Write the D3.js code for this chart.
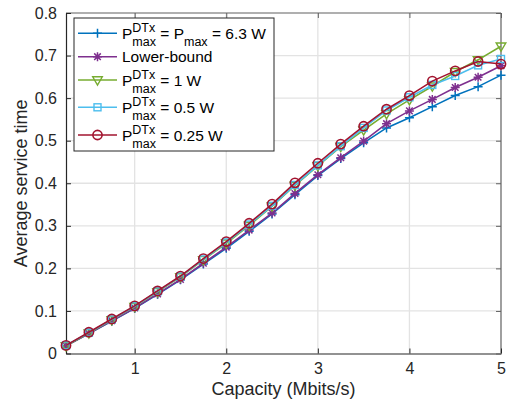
<!DOCTYPE html>
<html><head><meta charset="utf-8">
<script src="https://cdn.jsdelivr.net/npm/d3@7"></script>
<style>
html,body{margin:0;padding:0;background:#fff;}
svg{display:block;font-family:"Liberation Sans",Arial,Helvetica,sans-serif;}
</style></head>
<body>
<svg id="chart" width="513" height="404"></svg>
<script>
const capacity = [0.25,0.5,0.75,1,1.25,1.5,1.75,2,2.25,2.5,2.75,3,3.25,3.5,3.75,4,4.25,4.5,4.75,5];
const pFull   = [0.018,0.047,0.076,0.106,0.139,0.173,0.210,0.247,0.287,0.328,0.373,0.418,0.458,0.495,0.530,0.554,0.580,0.606,0.627,0.654];
const lowerBound = [0.018,0.047,0.077,0.107,0.140,0.174,0.212,0.250,0.290,0.330,0.376,0.420,0.460,0.499,0.540,0.570,0.597,0.625,0.649,0.676];
const p1W     = [0.018,0.048,0.079,0.110,0.145,0.180,0.220,0.259,0.301,0.346,0.395,0.441,0.486,0.525,0.563,0.596,0.628,0.662,0.690,0.722];
const p05W    = [0.019,0.049,0.080,0.111,0.146,0.181,0.221,0.261,0.303,0.347,0.396,0.442,0.487,0.530,0.571,0.602,0.631,0.652,0.677,0.692];
const p025W   = [0.019,0.050,0.081,0.112,0.147,0.182,0.223,0.263,0.306,0.351,0.401,0.447,0.492,0.534,0.574,0.606,0.640,0.664,0.686,0.680];
const xTicks = [1,2,3,4,5];
const yTicks = [0,0.1,0.2,0.3,0.4,0.5,0.6,0.7,0.8];
const xLabel = "Capacity (Mbits/s)";
const yLabel = "Average service time";

const series = [
  {values:pFull, color:"#0072BD", marker:"plus", legend:{base:"P", sup:"DTx", sub:"max", rest:[" = P",{sub:"max"}," = 6.3 W"]}},
  {values:lowerBound, color:"#7E2F8E", marker:"star", legend:{plain:"Lower-bound"}},
  {values:p1W, color:"#77AC30", marker:"tri", legend:{base:"P", sup:"DTx", sub:"max", rest:[" = 1 W"]}},
  {values:p05W, color:"#4DBEEE", marker:"square", legend:{base:"P", sup:"DTx", sub:"max", rest:[" = 0.5 W"]}},
  {values:p025W, color:"#A2142F", marker:"circle", legend:{base:"P", sup:"DTx", sub:"max", rest:[" = 0.25 W"]}}
];

const L=66, R=501, T=13, B=353.5;
const x = d3.scaleLinear().domain([0.25,5]).range([L,R]);
const y = d3.scaleLinear().domain([0,0.8]).range([B,T]);
const svg = d3.select("#chart");

// grid
svg.append("g").selectAll("line").data(xTicks.filter(v=>v<5)).join("line")
  .attr("x1",d=>x(d)).attr("x2",d=>x(d)).attr("y1",T).attr("y2",B)
  .attr("stroke","#e3e3e3").attr("stroke-width",1.3);
svg.append("g").selectAll("line").data(yTicks.filter(v=>v>0&&v<0.8)).join("line")
  .attr("y1",d=>y(d)).attr("y2",d=>y(d)).attr("x1",L).attr("x2",R)
  .attr("stroke","#e3e3e3").attr("stroke-width",1.3);

// box top/right
svg.append("line").attr("x1",L).attr("x2",R).attr("y1",T).attr("y2",T).attr("stroke","#606060").attr("stroke-width",1.2);
svg.append("line").attr("x1",R).attr("x2",R).attr("y1",T).attr("y2",B).attr("stroke","#606060").attr("stroke-width",1.2);

// axes
const ax = svg.append("g").attr("transform",`translate(0,${B})`)
  .call(d3.axisBottom(x).tickValues(xTicks).tickFormat(d3.format("d")).tickSizeInner(-5).tickSizeOuter(0).tickPadding(9));
const ay = svg.append("g").attr("transform",`translate(${L},0)`)
  .call(d3.axisLeft(y).tickValues(yTicks).tickFormat(d=>d===0?"0":d3.format(".1f")(d)).tickSizeInner(-5).tickSizeOuter(0).tickPadding(9));
// top & right ticks
svg.append("g").attr("transform",`translate(0,${T})`)
  .call(d3.axisTop(x).tickValues(xTicks).tickFormat("").tickSizeInner(-5).tickSizeOuter(0))
  .call(g=>g.select(".domain").remove()).selectAll("line").attr("stroke","#606060");
svg.append("g").attr("transform",`translate(${R},0)`)
  .call(d3.axisRight(y).tickValues(yTicks).tickFormat("").tickSizeInner(-5).tickSizeOuter(0))
  .call(g=>g.select(".domain").remove()).selectAll("line").attr("stroke","#606060");
[ax,ay].forEach(g=>{
  g.select(".domain").attr("stroke","#262626").attr("stroke-width",1.2);
  g.selectAll(".tick line").attr("stroke","#262626");
  g.selectAll(".tick text").attr("fill","#262626").style("font-size","16px").style("font-family","Liberation Sans, Arial, sans-serif");
});

// labels
svg.append("text").attr("x",(L+R)/2).attr("y",394.5).attr("text-anchor","middle")
  .attr("fill","#262626").style("font-size","18px").text(xLabel);
svg.append("text").attr("transform",`translate(27,${(T+B)/2}) rotate(-90)`).attr("text-anchor","middle")
  .attr("fill","#262626").style("font-size","18px").text(yLabel);

function drawMarker(g, type, color, cx, cy){
  const s = g.append("g").attr("transform",`translate(${cx},${cy})`);
  if(type==="plus"){
    s.append("path").attr("d","M-4.5,0H4.5M0,-4.5V4.5").attr("stroke",color).attr("stroke-width",1.5).attr("fill","none");
  } else if(type==="star"){
    s.append("path").attr("d","M-4.5,0H4.5M0,-4.5V4.5M-3.3,-3.3L3.3,3.3M-3.3,3.3L3.3,-3.3").attr("stroke",color).attr("stroke-width",1.5).attr("fill","none");
  } else if(type==="tri"){
    s.append("path").attr("d","M-4.8,-3.2L4.8,-3.2L0,5Z").attr("stroke",color).attr("stroke-width",1.4).attr("fill","none");
  } else if(type==="square"){
    s.append("rect").attr("x",-3.5).attr("y",-3.5).attr("width",7).attr("height",7).attr("stroke",color).attr("stroke-width",1.4).attr("fill","none");
  } else if(type==="circle"){
    s.append("circle").attr("r",4.6).attr("stroke",color).attr("stroke-width",1.6).attr("fill","none");
  }
}

const line = d3.line().x((d,i)=>x(capacity[i])).y(d=>y(d));
series.forEach(s=>{
  const g = svg.append("g");
  g.append("path").datum(s.values).attr("d",line).attr("fill","none").attr("stroke",s.color).attr("stroke-width",1.6);
  s.values.forEach((v,i)=>drawMarker(g,s.marker,s.color,x(capacity[i]),y(v)));
});

// legend
const lg = svg.append("g");
lg.append("rect").attr("x",74).attr("y",18).attr("width",200).attr("height",133)
  .attr("fill","#fff").attr("stroke","#262626").attr("stroke-width",1);
const rowY = [33.3,56.7,80,107.3,135];
const mainFs = 15.5, smallFs = 12.5;
function txt(g,xp,yp,str,fs){
  const t = g.append("text").attr("x",xp).attr("y",yp).style("font-size",fs+"px").attr("fill","#000").text(str)
    .attr("xml:space","preserve").style("white-space","pre");
  return t.node().getComputedTextLength();
}
series.forEach((s,i)=>{
  const ly = rowY[i];
  lg.append("line").attr("x1",78).attr("x2",117).attr("y1",ly).attr("y2",ly).attr("stroke",s.color).attr("stroke-width",1.6);
  drawMarker(lg,s.marker,s.color,97.5,ly);
  const base = ly+5.5;
  let cx = 122;
  const L2 = s.legend;
  if(L2.plain){ txt(lg,cx,base,L2.plain,mainFs); return; }
  cx += txt(lg,cx,base,L2.base,mainFs);
  const w1 = txt(lg,cx,base-7,L2.sup,smallFs);
  const w2 = txt(lg,cx,base+7.5,L2.sub,smallFs);
  cx += Math.max(w1,w2);
  L2.rest.forEach(r=>{
    if(typeof r==="string"){ cx += txt(lg,cx,base,r,mainFs); }
    else { cx += txt(lg,cx,base+7.5,r.sub,smallFs); }
  });
});
</script>
</body></html>
